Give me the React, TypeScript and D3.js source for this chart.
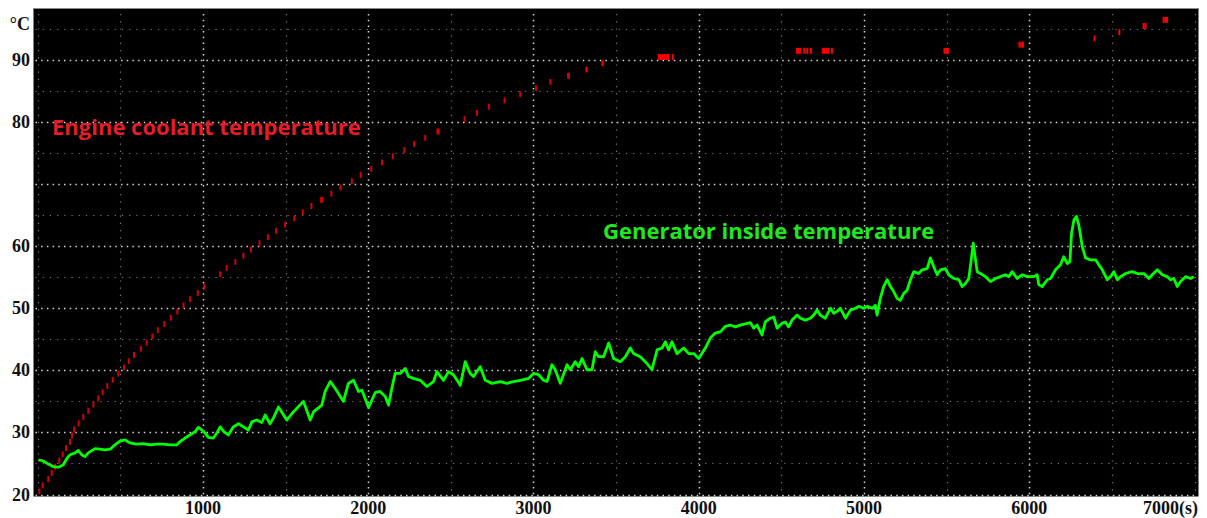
import React from "react";
import * as d3 from "d3";

const W = 1207;
const H = 518;

const xTickValues = [1000, 2000, 3000, 4000, 5000, 6000, 7000];
const xTickLabels = ["1000", "2000", "3000", "4000", "5000", "6000", "7000(s)"];
const yTickValues = [20, 30, 40, 50, 60, 80, 90];
const yUnit = "°C";

const coolantLabel = "Engine coolant temperature";
const generatorLabel = "Generator inside temperature";

// Engine coolant temperature: time (s) at which each 1-degree step occurs, and the lower degree of that step
const coolantTimes = [
  10, 30, 64, 85, 105, 131, 151, 171, 196, 208, 220, 248, 276, 306, 337, 367, 393, 421, 454, 488,
  522, 551, 583, 624, 660, 694, 727, 766, 805, 845, 882, 922, 969, 1008, 1104, 1144, 1196, 1245, 1291, 1342,
  1393, 1443, 1497, 1553, 1604, 1656, 1715, 1722, 1777, 1832, 1901, 1955, 2018, 2083, 2149, 2218, 2278, 2345, 2419, 2426,
  2583, 2658, 2730, 2825, 2920, 3015, 3102, 3209, 3215, 3321, 3418,
  3758, 3770, 3782, 3794, 3807, 3816, 3843,
  4594, 4606, 4615, 4639, 4657, 4679, 4751, 4763, 4775, 4785, 4806,
  5487, 5499, 5508, 5941, 5953, 5962, 6395, 6545, 6692, 6704, 6813, 6825, 6834,
];
const coolantTemps = [
  20, 21, 22, 23, 24, 25, 26, 27, 28, 29, 30, 31, 32, 33, 34, 35, 36, 37, 38, 39,
  40, 41, 42, 43, 44, 45, 46, 47, 48, 49, 50, 51, 52, 53, 55, 56, 57, 58, 59, 60,
  61, 62, 63, 64, 65, 66, 67, 67, 68, 69, 70, 71, 72, 73, 74, 75, 76, 77, 78, 78,
  80, 81, 82, 83, 84, 85, 86, 87, 87, 88, 89,
  90, 90, 90, 90, 90, 90, 90,
  91, 91, 91, 91, 91, 91, 91, 91, 91, 91, 91,
  91, 91, 91, 92, 92, 92, 93, 94, 95, 95, 96, 96, 96,
];

// Generator inside temperature
const genTimes = [
  5, 34, 64, 94, 125, 155, 176, 196, 226, 246, 266, 286, 306, 347, 377, 407, 438, 468, 498, 528,
  559, 599, 639, 680, 720, 760, 801, 842, 861, 892, 922, 952, 972, 993, 1013, 1033, 1063, 1084, 1104, 1128,
  1154, 1184, 1215, 1245, 1275, 1296, 1326, 1356, 1376, 1406, 1426, 1457,
  1507, 1547, 1608, 1649, 1669, 1719, 1739, 1770, 1800, 1850, 1880, 1911, 1941, 1962, 2002, 2042, 2072, 2103, 2123, 2143,
  2163, 2194, 2224, 2244, 2274, 2315, 2355, 2395, 2416, 2456, 2486, 2516, 2557, 2587, 2617, 2637, 2678, 2708, 2749, 2799,
  2839, 2879, 2920, 2970, 3000, 3031, 3061, 3082, 3112, 3132, 3162, 3203, 3223, 3253, 3273, 3294, 3324, 3354, 3374, 3394,
  3424, 3455, 3485, 3525, 3556, 3586, 3606, 3646, 3687, 3717, 3748, 3778, 3798, 3818, 3838, 3869, 3909, 3939, 3969, 4000,
  4040, 4070, 4100, 4131, 4161, 4191, 4222, 4252, 4282, 4312, 4332, 4353, 4383, 4403, 4433, 4454, 4474, 4504, 4524, 4544,
  4565, 4595, 4615, 4645, 4676, 4696, 4716, 4736, 4766, 4797, 4817, 4837, 4857, 4888, 4918, 4948, 4968, 4999, 5019, 5049,
  5069, 5079, 5099, 5119, 5140, 5160, 5180, 5200, 5220, 5241, 5261, 5281, 5301, 5331, 5352, 5382, 5402, 5422, 5443, 5463,
  5493, 5513, 5543, 5574, 5594, 5614, 5634, 5649, 5661, 5675, 5685, 5705, 5735, 5766, 5796, 5826, 5856, 5876, 5897, 5927,
  5957, 5988, 6028, 6048, 6058, 6078, 6109, 6129, 6159, 6189, 6209, 6230, 6246, 6256, 6270, 6286, 6300, 6321, 6341, 6372,
  6402, 6421, 6442, 6472, 6492, 6512, 6533, 6553, 6583, 6623, 6654, 6694, 6724, 6744, 6775, 6805, 6835, 6855, 6875, 6896,
  6916, 6946, 6976, 6996,
];
const genTemps = [
  25.6, 25.4, 24.9, 24.5, 24.4, 24.8, 25.8, 26.4, 26.7, 27.1, 26.4, 26.1, 26.7, 27.4, 27.3, 27.2, 27.3, 28.0, 28.6, 28.8,
  28.3, 28.1, 28.2, 28.0, 28.1, 28.1, 28.0, 28.0, 28.5, 29.1, 29.6, 30.1, 30.8, 30.4, 29.9, 29.2, 29.1, 29.9, 30.9, 30.1,
  29.6, 30.9, 31.4, 30.9, 30.4, 31.7, 32.0, 31.6, 32.8, 31.4, 32.3, 34.1,
  32.0, 33.3, 35.0, 32.0, 33.3, 34.4, 36.6, 38.2, 37.1, 35.0, 37.9, 38.4, 36.6, 36.8, 34.0, 36.4, 36.6, 35.8, 34.4, 37.1,
  39.5, 39.5, 40.3, 39.0, 38.7, 38.4, 37.4, 38.2, 39.8, 38.4, 39.8, 39.3, 37.6, 41.4, 39.5, 39.0, 40.6, 38.4, 37.9, 38.2,
  37.9, 38.2, 38.4, 38.7, 39.5, 39.3, 38.4, 38.2, 40.9, 40.1, 37.9, 40.9, 40.1, 41.4, 40.6, 41.9, 40.1, 40.1, 43.0, 42.2,
  42.2, 44.4, 41.9, 41.4, 42.2, 43.6, 42.7, 42.2, 41.1, 40.1, 43.3, 43.6, 44.6, 43.3, 44.6, 42.7, 43.6, 42.7, 42.7, 41.9,
  43.6, 45.2, 46.0, 46.2, 47.1, 47.3, 47.0, 47.3, 47.5, 47.7, 46.8, 47.3, 45.7, 47.8, 48.4, 48.6, 46.8, 47.6, 47.8, 47.0,
  48.1, 48.9, 48.4, 48.1, 48.4, 48.9, 49.7, 48.9, 48.4, 50.0, 49.2, 49.5, 50.0, 48.4, 49.7, 50.0, 50.3, 50.0, 50.3, 50.0,
  50.5, 48.9, 51.6, 53.5, 54.6, 53.5, 52.7, 51.6, 51.3, 52.4, 52.9, 54.6, 55.9, 55.6, 56.2, 56.4, 58.1, 56.7, 55.4, 56.2,
  56.4, 55.4, 54.8, 54.6, 53.5, 54.0, 54.8, 57.8, 60.5, 57.8, 55.9, 55.6, 55.1, 54.3, 54.8, 55.1, 55.4, 55.1, 55.9, 54.8,
  55.4, 55.1, 55.1, 55.4, 53.8, 53.5, 54.6, 54.8, 56.2, 57.0, 58.3, 57.2, 57.5, 62.1, 64.2, 64.8, 63.4, 59.9, 58.1, 57.8,
  57.8, 57.0, 56.2, 54.6, 55.1, 55.9, 54.6, 55.1, 55.6, 55.9, 55.6, 55.6, 54.8, 55.4, 56.2, 55.4, 55.1, 54.6, 54.8, 53.5,
  54.3, 55.1, 54.8, 55.1,
];

const gridX = d3.range(0, 7001, 500);
const gridY = d3.range(20, 96, 5);

export default function App() {
  const x = d3.scaleLinear().domain([0, 7000]).range([37.7, 1194.5]);
  const y = d3.scaleLinear().domain([20, 90]).range([494.5, 60]);

  const plotLeft = 33.5;
  const plotRight = 1198.5;
  const plotTop = 8;
  const plotBottom = 496.5;

  const genPoints: [number, number][] = d3.zip(genTimes, genTemps) as any;
  const line = d3
    .line<[number, number]>()
    .x((d) => x(d[0]))
    .y((d) => y(d[1]));

  const coolant = d3.zip(coolantTimes, coolantTemps) as [number, number][];
  const serif = "'Liberation Serif', 'Times New Roman', serif";
  const sans = "'Open Sans', 'Noto Sans', sans-serif";

  return (
    <div style={{ position: "absolute", left: 0, top: 0 }}>
      <svg width={W} height={H} style={{ display: "block", background: "#fff" }}>
        <defs>
          <clipPath id="plotclip">
            <rect x={plotLeft} y={plotTop} width={plotRight - plotLeft} height={plotBottom - plotTop} />
          </clipPath>
        </defs>
        <rect x={plotLeft} y={plotTop} width={plotRight - plotLeft} height={plotBottom - plotTop} fill="#000" />
        <line x1={plotLeft} x2={plotRight} y1={plotTop + 0.5} y2={plotTop + 0.5} stroke="#8a8a8a" strokeWidth={1} />

        {gridY.map((v) => {
          const major = v % 10 === 0;
          return (
            <line
              key={"gy" + v}
              x1={plotLeft + 2}
              x2={plotRight - 2}
              y1={Math.round(y(v)) + 0.5}
              y2={Math.round(y(v)) + 0.5}
              stroke={major ? "#d8d8d8" : "#7c7c7c"}
              strokeWidth={major ? 1.5 : 1.2}
              strokeDasharray={major ? "1.5 4.2" : "1.2 6"}
            />
          );
        })}
        {gridX.map((v) => {
          const major = v % 1000 === 0 && v > 0 && v < 7000;
          return (
            <line
              key={"gx" + v}
              x1={Math.round(x(v)) + 0.5}
              x2={Math.round(x(v)) + 0.5}
              y1={plotTop + 6}
              y2={plotBottom - 1}
              stroke={major ? "#d8d8d8" : "#7c7c7c"}
              strokeWidth={major ? 1.5 : 1.2}
              strokeDasharray={major ? "1.5 4.2" : "1.2 6"}
            />
          );
        })}

        <g clipPath="url(#plotclip)">
          {coolant.map(([t, v], i) => (
            <rect
              key={"c" + i}
              x={x(t) - 1}
              y={y(v + 1) + 0.3}
              width={2}
              height={y(v) - y(v + 1) - 0.3}
              fill={v >= 88 ? "#ff0000" : "#d40000"}
            />
          ))}
          <path d={line(genPoints) || ""} fill="none" stroke="#00ff00" strokeWidth={2.8} strokeLinejoin="round" />
        </g>

        <text x={52} y={135} fill="#e41e26" fontFamily={sans} fontWeight={700} fontSize={22}>
          {coolantLabel}
        </text>
        <text x={603} y={239} fill="#1fe81f" fontFamily={sans} fontWeight={700} fontSize={22}>
          {generatorLabel}
        </text>

        {yTickValues.map((v) => (
          <text
            key={"yt" + v}
            x={30}
            y={y(v)}
            textAnchor="end"
            dominantBaseline="central"
            fontFamily={serif}
            fontWeight="bold"
            fontSize={18}
            fill="#111"
          >
            {v}
          </text>
        ))}
        <text x={30} y={30} textAnchor="end" fontFamily={serif} fontWeight="bold" fontSize={18} fill="#111">
          {yUnit}
        </text>

        {xTickValues.map((v, i) => {
          const last = i === xTickValues.length - 1;
          return (
            <text
              key={"xt" + v}
              x={last ? 1198 : x(v)}
              y={514}
              textAnchor={last ? "end" : "middle"}
              fontFamily={serif}
              fontWeight="bold"
              fontSize={18}
              fill="#111"
            >
              {xTickLabels[i]}
            </text>
          );
        })}
      </svg>
    </div>
  );
}
